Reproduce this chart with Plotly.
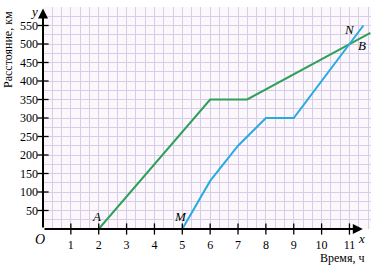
import plotly.graph_objects as go

# Data
green_x = [2, 6, 7.33, 11, 11.75]
green_y = [0, 350, 350, 500, 530]
blue_x = [5, 6, 7, 8, 9, 11, 11.5]
blue_y = [0, 130, 225, 300, 300, 500, 550]
x_ticks = [1, 2, 3, 4, 5, 6, 7, 8, 9, 10, 11]
y_ticks = [50, 100, 150, 200, 250, 300, 350, 400, 450, 500, 550]
point_labels = ["A", "M", "N", "B"]
point_x = [2, 5, 11, 11]
point_y = [0, 0, 500, 500]

GREEN = "#2ea05a"
BLUE = "#29aae1"
GRID = "#d6cdea"
SERIF = "Liberation Serif"

W, H = 371, 269
ML, MB, MT, MR = 43, 40, 7, 0

fig = go.Figure()

fig.add_trace(go.Scatter(x=green_x, y=green_y, mode="lines",
                         line=dict(color=GREEN, width=2), hoverinfo="skip"))
fig.add_trace(go.Scatter(x=blue_x, y=blue_y, mode="lines",
                         line=dict(color=BLUE, width=2), hoverinfo="skip"))

# crossing tick marks
fig.add_trace(go.Scatter(x=x_ticks, y=[0] * len(x_ticks), mode="markers",
                         marker=dict(symbol="line-ns", size=8,
                                     line=dict(color="black", width=1.3)),
                         cliponaxis=False, hoverinfo="skip"))
fig.add_trace(go.Scatter(x=[0] * len(y_ticks), y=y_ticks, mode="markers",
                         marker=dict(symbol="line-ew", size=8,
                                     line=dict(color="black", width=1.3)),
                         cliponaxis=False, hoverinfo="skip"))

x_max = (W - ML - MR) / 27.86

fig.update_layout(
    width=W, height=H,
    margin=dict(l=ML, r=MR, t=MT, b=MB, pad=0),
    paper_bgcolor="white",
    plot_bgcolor="#fbf7fb",
    showlegend=False,
    font=dict(family=SERIF, size=12, color="black"),
    xaxis=dict(range=[0, x_max], tickvals=x_ticks,
               ticktext=[str(v) for v in x_ticks],
               showgrid=True, gridcolor=GRID, gridwidth=1,
               minor=dict(dtick=1 / 3, tick0=0, showgrid=True, gridcolor=GRID, gridwidth=1),
               zeroline=False, showline=False, ticks="",
               ticklabelstandoff=7,
               tickfont=dict(family=SERIF, size=12, color="black"),
               fixedrange=True),
    yaxis=dict(range=[0, 600], tickvals=y_ticks,
               ticktext=[str(v) for v in y_ticks],
               showgrid=True, gridcolor=GRID, gridwidth=1,
               minor=dict(dtick=25, tick0=0, showgrid=True, gridcolor=GRID, gridwidth=1),
               zeroline=False, showline=False, ticks="",
               ticklabelstandoff=4,
               tickfont=dict(family=SERIF, size=12, color="black"),
               fixedrange=True),
)

# axes with arrows
fig.add_annotation(x=11.48, y=0, ax=0, ay=0, xref="x", yref="y", axref="x", ayref="y",
                   text="", showarrow=True, arrowhead=2, arrowsize=1, arrowwidth=2,
                   arrowcolor="black", standoff=0, startstandoff=0)
fig.add_annotation(x=0, y=596, ax=0, ay=0, xref="x", yref="y", axref="x", ayref="y",
                   text="", showarrow=True, arrowhead=2, arrowsize=1, arrowwidth=2,
                   arrowcolor="black", standoff=0, startstandoff=0)

it = dict(family=SERIF, size=13, color="black")
# axis letters
fig.add_annotation(x=0, y=0, xref="x", yref="y", text="<i>O</i>", showarrow=False,
                   xshift=-3, yshift=-10, font=dict(family=SERIF, size=14, color="black"))
fig.add_annotation(x=11.48, y=0, xref="x", yref="y", text="<i>x</i>", showarrow=False,
                   xshift=-1, yshift=-9, font=it)
fig.add_annotation(x=0, y=600, xref="x", yref="y", text="<i>y</i>", showarrow=False,
                   xshift=-9, yshift=-4, font=it)

# point labels
shifts = {"A": (-2, 13), "M": (-2, 13), "N": (0, 15), "B": (13, -1)}
for lab, px, py in zip(point_labels, point_x, point_y):
    dx, dy = shifts[lab]
    fig.add_annotation(x=px, y=py, xref="x", yref="y", text=f"<i>{lab}</i>",
                       showarrow=False, xshift=dx, yshift=dy, font=it)

# axis titles
fig.add_annotation(x=(8 - ML) / (W - ML - MR), y=(229 - 50) / (229 - MT),
                   xref="paper", yref="paper", text="Расстояние, км", textangle=-90,
                   xanchor="center", yanchor="middle",
                   showarrow=False, font=dict(family=SERIF, size=12, color="black"))
fig.add_annotation(x=(366 - ML) / (W - ML - MR), y=(229 - 258) / (229 - MT),
                   xref="paper", yref="paper", text="Время, ч", xanchor="right",
                   yanchor="middle",
                   showarrow=False, font=dict(family=SERIF, size=12, color="black"))

fig.write_html("out.html")
